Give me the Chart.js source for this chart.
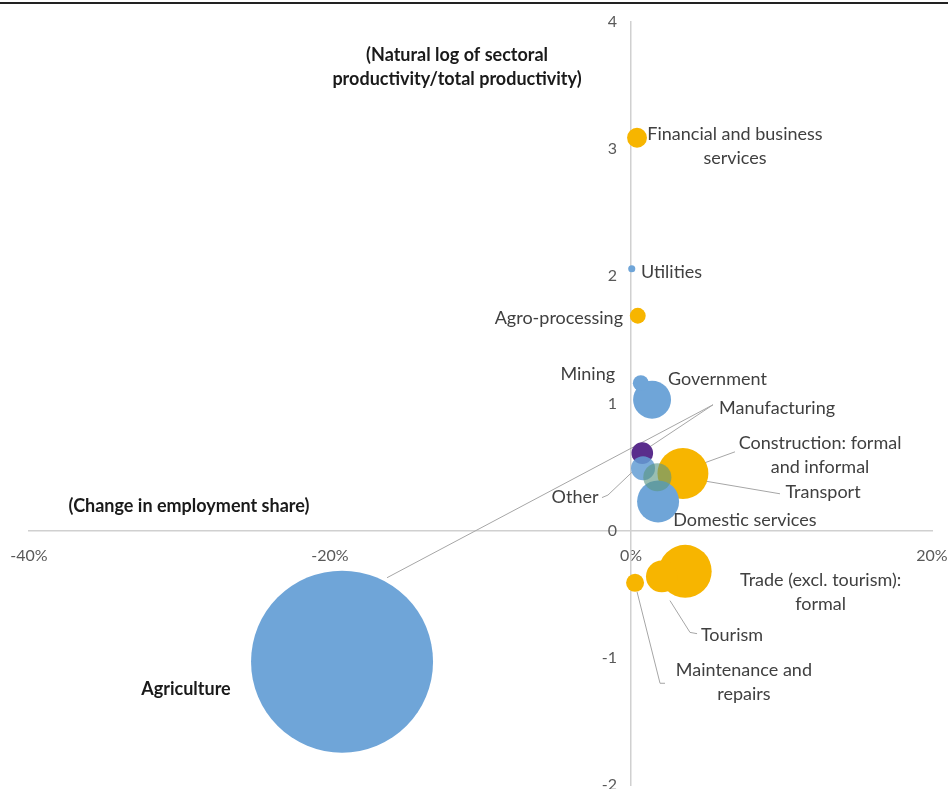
<!DOCTYPE html>
<html>
<head>
<meta charset="utf-8">
<script src="https://cdn.jsdelivr.net/npm/chart.js@4"></script>
<style>
  body { margin: 0; background: #fff; }
  #wrap { position: relative; width: 948px; height: 789px; }
</style>
</head>
<body>
<div id="wrap"><canvas id="bubbleChart"></canvas></div>
<script>
// sectors in drawing order
const sectors = [
  "Agriculture", "Government", "Mining", "Financial and business services", "Utilities",
  "Agro-processing", "Construction: formal and informal", "Domestic services",
  "Manufacturing", "Other", "Transport", "Trade (excl. tourism): formal", "Tourism",
  "Maintenance and repairs"
];
// change in employment share (%)
const employmentChange = [-19.2, 1.4, 0.65, 0.4, 0.05, 0.45, 3.45, 1.8, 0.75, 0.8, 1.75, 3.6, 2.05, 0.27];
// natural log of sectoral productivity / total productivity
const logProductivity = [-1.03, 1.03, 1.16, 3.09, 2.06, 1.69, 0.45, 0.23, 0.61, 0.49, 0.42, -0.32, -0.36, -0.41];
// bubble size (relative employment)
const bubbleSize = [920, 40, 7, 11, 1.4, 7, 72, 49, 13, 16, 22, 78, 28, 9];
const sectorGroup = ["blue", "blue", "blue", "orange", "blue", "orange", "orange", "blue",
  "purple", "blueT", "green", "orange", "orange", "orange"];

const xTicks = [-40, -20, 0, 20];
const yTicks = [-2, -1, 0, 1, 2, 3, 4];

const groupColors = {
  blue: "#6fa5d8",
  blueT: "rgba(100,158,212,0.85)",
  orange: "#f7b500",
  purple: "#5a2d8c",
  green: "rgba(90,150,130,0.62)"
};

// label text anchors in data units [x, y, align, lines, bold]
const labelSpots = [
  [6.91, 3.12, "center", ["Financial and business", "services"], false],
  [0.66, 2.03, "left", ["Utilities"], false],
  [-0.53, 1.67, "right", ["Agro-processing"], false],
  [-1.06, 1.23, "right", ["Mining"], false],
  [2.46, 1.19, "left", ["Government"], false],
  [5.85, 0.96, "left", ["Manufacturing"], false],
  [12.56, 0.69, "center", ["Construction: formal", "and informal"], false],
  [12.76, 0.30, "center", ["Transport"], false],
  [-3.72, 0.26, "center", ["Other"], false],
  [7.57, 0.08, "center", ["Domestic services"], false],
  [12.6, -0.39, "center", ["Trade (excl. tourism):", "formal"], false],
  [6.71, -0.82, "center", ["Tourism"], false],
  [7.5, -1.10, "center", ["Maintenance and", "repairs"], false],
  [-29.57, -1.25, "center", ["Agriculture"], true],
  [-11.56, 3.74, "center", ["(Natural log of sectoral", "productivity/total productivity)"], true],
  [-29.37, 0.19, "center", ["(Change in employment share)"], true]
];

// leader lines in data units
const leaders = [
  [[5.45, 0.99], [1.13, 0.65]],
  [[5.45, 0.99], [-16.21, -0.37]],
  [[-1.93, 0.26], [-1.53, 0.28], [0.07, 0.46]],
  [[9.9, 0.29], [3.92, 0.41]],
  [[6.91, 0.62], [4.58, 0.52]],
  [[4.39, -0.81], [3.92, -0.80], [2.59, -0.55]],
  [[2.26, -1.2], [1.93, -1.2], [0.40, -0.48]]
];

const points = sectors.map((s, i) => ({
  x: employmentChange[i],
  y: logProductivity[i],
  r: Math.sqrt(bubbleSize[i]) * 3
}));

const FONT = "Lato, 'Open Sans', sans-serif";

const annotate = {
  id: "annotate",
  beforeDatasetsDraw(chart) {
    const { ctx, scales: { x, y } } = chart;
    ctx.save();
    ctx.strokeStyle = "#a6a6a6";
    ctx.lineWidth = 1;
    leaders.forEach(pts => {
      ctx.beginPath();
      pts.forEach((p, k) => {
        const px = x.getPixelForValue(p[0]);
        const py = y.getPixelForValue(p[1]);
        if (k === 0) ctx.moveTo(px, py); else ctx.lineTo(px, py);
      });
      ctx.stroke();
    });
    ctx.restore();
  },
  afterDatasetsDraw(chart) {
    const { ctx, scales: { x, y } } = chart;
    ctx.save();
    ctx.textBaseline = "middle";
    labelSpots.forEach(([lx, ly, align, lines, bold]) => {
      ctx.font = (bold ? "bold " : "") + "18px " + FONT;
      ctx.fillStyle = bold ? "#1a1a1a" : "#404040";
      ctx.textAlign = align;
      const px = x.getPixelForValue(lx);
      const py = y.getPixelForValue(ly);
      lines.forEach((t, k) => ctx.fillText(t, px, py + k * 24));
    });
    ctx.restore();
  },
  afterDraw(chart) {
    const { ctx } = chart;
    ctx.save();
    ctx.fillStyle = "#222";
    ctx.fillRect(0, 2, chart.width, 2);
    ctx.restore();
  }
};

new Chart(document.getElementById("bubbleChart"), {
  type: "bubble",
  data: {
    datasets: [{
      label: "Sectors",
      data: points,
      backgroundColor: sectorGroup.map(g => groupColors[g]),
      borderWidth: 0,
      clip: false
    }]
  },
  options: {
    responsive: true,
    maintainAspectRatio: false,
    animation: false,
    layout: { autoPadding: false, padding: { left: 29, right: 16, top: 22, bottom: 4 } },
    plugins: {
      legend: { display: false },
      tooltip: { enabled: false }
    },
    scales: {
      x: {
        type: "linear",
        min: -40, max: 20,
        position: { y: 0 },
        afterBuildTicks: axis => { axis.ticks = xTicks.map(v => ({ value: v })); },
        afterFit: axis => { axis.height = 0; axis.paddingLeft = 0; axis.paddingRight = 0; },
        grid: { display: false, drawTicks: false },
        border: { display: true, color: "#d0d0d0", width: 1.5 },
        ticks: {
          padding: 16,
          color: "#595959",
          font: { family: FONT, size: 16 },
          maxRotation: 0,
          callback: v => v + "%"
        }
      },
      y: {
        type: "linear",
        min: -2, max: 4,
        position: { x: 0 },
        afterBuildTicks: axis => { axis.ticks = yTicks.map(v => ({ value: v })); },
        afterFit: axis => { axis.width = 0; axis.paddingTop = 0; axis.paddingBottom = 0; },
        grid: { display: false, drawTicks: false },
        border: { display: true, color: "#d0d0d0", width: 1.5 },
        ticks: {
          color: "#595959",
          font: { family: FONT, size: 16 },
          // labels sit right-aligned on the axis line; pad them off it
          callback: v => v + "\u2003\u2009"
        }
      }
    }
  },
  plugins: [annotate]
});
</script>
</body>
</html>
